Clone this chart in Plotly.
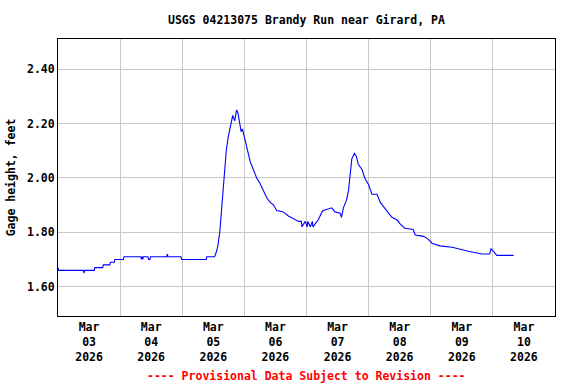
import plotly.graph_objects as go

# Readings (time, gage height in feet)
times = [
    "2026-03-03 00:00", "2026-03-03 00:15", "2026-03-03 09:45", "2026-03-03 10:00", "2026-03-03 10:15",
    "2026-03-03 14:00", "2026-03-03 14:15", "2026-03-03 17:15", "2026-03-03 17:30",
    "2026-03-03 20:00", "2026-03-03 20:15", "2026-03-03 21:45", "2026-03-03 22:00",
    "2026-03-04 01:15", "2026-03-04 01:30", "2026-03-04 08:00", "2026-03-04 08:15", "2026-03-04 08:30",
    "2026-03-04 08:45", "2026-03-04 09:00", "2026-03-04 10:45", "2026-03-04 11:00", "2026-03-04 11:30",
    "2026-03-04 11:45", "2026-03-04 18:00", "2026-03-04 18:15", "2026-03-04 18:30",
    "2026-03-04 23:30", "2026-03-04 23:45", "2026-03-05 09:15", "2026-03-05 09:30",
    "2026-03-05 12:30", "2026-03-05 13:15", "2026-03-05 13:45", "2026-03-05 14:30", "2026-03-05 15:00",
    "2026-03-05 15:45", "2026-03-05 16:30", "2026-03-05 17:00", "2026-03-05 17:45", "2026-03-05 18:15",
    "2026-03-05 18:30", "2026-03-05 19:00", "2026-03-05 19:30", "2026-03-05 20:15", "2026-03-05 21:00",
    "2026-03-05 21:30", "2026-03-05 22:15", "2026-03-05 22:45", "2026-03-05 23:15", "2026-03-05 23:30",
    "2026-03-06 00:15", "2026-03-06 01:30", "2026-03-06 02:15", "2026-03-06 03:30", "2026-03-06 04:45",
    "2026-03-06 06:00", "2026-03-06 07:15", "2026-03-06 08:45", "2026-03-06 10:00", "2026-03-06 11:15",
    "2026-03-06 12:30", "2026-03-06 15:00", "2026-03-06 17:00", "2026-03-06 19:00", "2026-03-06 21:00",
    "2026-03-06 22:00", "2026-03-06 22:15", "2026-03-06 23:30", "2026-03-07 00:15", "2026-03-07 00:30",
    "2026-03-07 01:30", "2026-03-07 02:15", "2026-03-07 02:30", "2026-03-07 03:15", "2026-03-07 04:30",
    "2026-03-07 06:00", "2026-03-07 06:30", "2026-03-07 09:45", "2026-03-07 11:00", "2026-03-07 13:00",
    "2026-03-07 13:30", "2026-03-07 14:15", "2026-03-07 15:30", "2026-03-07 16:15", "2026-03-07 16:45",
    "2026-03-07 17:30", "2026-03-07 18:30", "2026-03-07 19:15", "2026-03-07 20:00", "2026-03-07 21:30",
    "2026-03-07 22:30", "2026-03-08 00:00", "2026-03-08 01:15", "2026-03-08 03:15", "2026-03-08 04:30",
    "2026-03-08 05:45", "2026-03-08 07:30", "2026-03-08 09:00", "2026-03-08 11:00", "2026-03-08 12:15",
    "2026-03-08 14:00", "2026-03-08 17:15", "2026-03-08 18:00", "2026-03-08 21:15", "2026-03-08 23:00",
    "2026-03-09 00:30", "2026-03-09 03:30", "2026-03-09 08:15", "2026-03-09 14:30", "2026-03-09 19:45",
    "2026-03-09 22:45", "2026-03-09 23:15", "2026-03-10 00:15", "2026-03-10 01:30", "2026-03-10 07:45",
    "2026-03-10 08:00",
]
gage_height = [
    1.67, 1.66, 1.66, 1.65, 1.66,
    1.66, 1.67, 1.67, 1.68,
    1.68, 1.69, 1.69, 1.70,
    1.70, 1.71, 1.71, 1.70, 1.71,
    1.70, 1.71, 1.71, 1.70, 1.70,
    1.71, 1.71, 1.72, 1.71,
    1.71, 1.70, 1.70, 1.71,
    1.71, 1.73, 1.75, 1.80, 1.86,
    1.94, 2.05, 2.10, 2.15, 2.17,
    2.19, 2.21, 2.23, 2.21, 2.25,
    2.24, 2.20, 2.17, 2.18, 2.17,
    2.14, 2.10, 2.06, 2.03, 2.00,
    1.98, 1.955, 1.925, 1.91, 1.90,
    1.88, 1.875, 1.86, 1.85, 1.84,
    1.84, 1.82, 1.84, 1.82, 1.84,
    1.82, 1.84, 1.82, 1.83, 1.845,
    1.875, 1.88, 1.89, 1.875, 1.87,
    1.855, 1.89, 1.92, 1.955, 2.00,
    2.07, 2.09, 2.08, 2.05, 2.03,
    2.00, 1.975, 1.94, 1.94, 1.91,
    1.895, 1.87, 1.855, 1.845, 1.83,
    1.815, 1.81, 1.79, 1.785, 1.775,
    1.76, 1.75, 1.745, 1.73, 1.72,
    1.72, 1.74, 1.73, 1.715, 1.715,
    1.715,
]

title_text = "USGS 04213075 Brandy Run near Girard, PA"
y_title = "Gage height, feet"
footer_text = "---- Provisional Data Subject to Revision ----"
y_ticks = [1.60, 1.80, 2.00, 2.20, 2.40]
x_range = ["2026-03-03 00:00", "2026-03-11 00:00"]
y_range = [1.492, 2.511]

FONT = "DejaVu Sans Mono"

fig = go.Figure()
fig.add_trace(go.Scatter(
    x=times, y=gage_height, mode="lines",
    line=dict(color="#0000ff", width=1.1),
    showlegend=False, hoverinfo="x+y",
))

fig.update_layout(
    width=576, height=384,
    margin=dict(l=58, r=21, t=39, b=68),
    paper_bgcolor="white", plot_bgcolor="white",
    font=dict(family=FONT, size=11.5, color="black"),
    title=dict(text="<b>" + title_text + "</b>", x=0.532, xanchor="center",
               y=0.948, yanchor="middle", font=dict(family=FONT, size=11.5, color="black")),
    xaxis=dict(
        range=x_range, type="date", automargin=False,
        dtick=86400000, tick0="2026-03-03", ticklabelmode="period",
        tickformat="<b>%b</b><br><b>%d</b><br><b>%Y</b>",
        showgrid=True, gridcolor="#c8c8c8", gridwidth=1,
        showline=True, linecolor="black", linewidth=1, mirror=True,
        ticks="", zeroline=False,
        tickfont=dict(family=FONT, size=11.5, color="black"),
    ),
    yaxis=dict(
        range=y_range, tickvals=y_ticks, automargin=False,
        ticktext=["<b>%.2f</b>" % v for v in y_ticks],
        showgrid=True, gridcolor="#c8c8c8", gridwidth=1,
        showline=True, linecolor="black", linewidth=1, mirror=True,
        ticks="", zeroline=False,
        tickfont=dict(family=FONT, size=11.5, color="black"),
        title=dict(text="<b>" + y_title + "</b>", standoff=8,
                   font=dict(family=FONT, size=11.5, color="black")),
    ),
    annotations=[dict(
        text="<b>" + footer_text + "</b>", xref="paper", yref="paper",
        x=0.5, y=-0.215, xanchor="center", yanchor="middle", showarrow=False,
        font=dict(family=FONT, size=11.5, color="#ff0000"),
    )],
)

fig.write_html("out.html", config={"displayModeBar": False},
               post_script="document.body.style.margin='0';")
